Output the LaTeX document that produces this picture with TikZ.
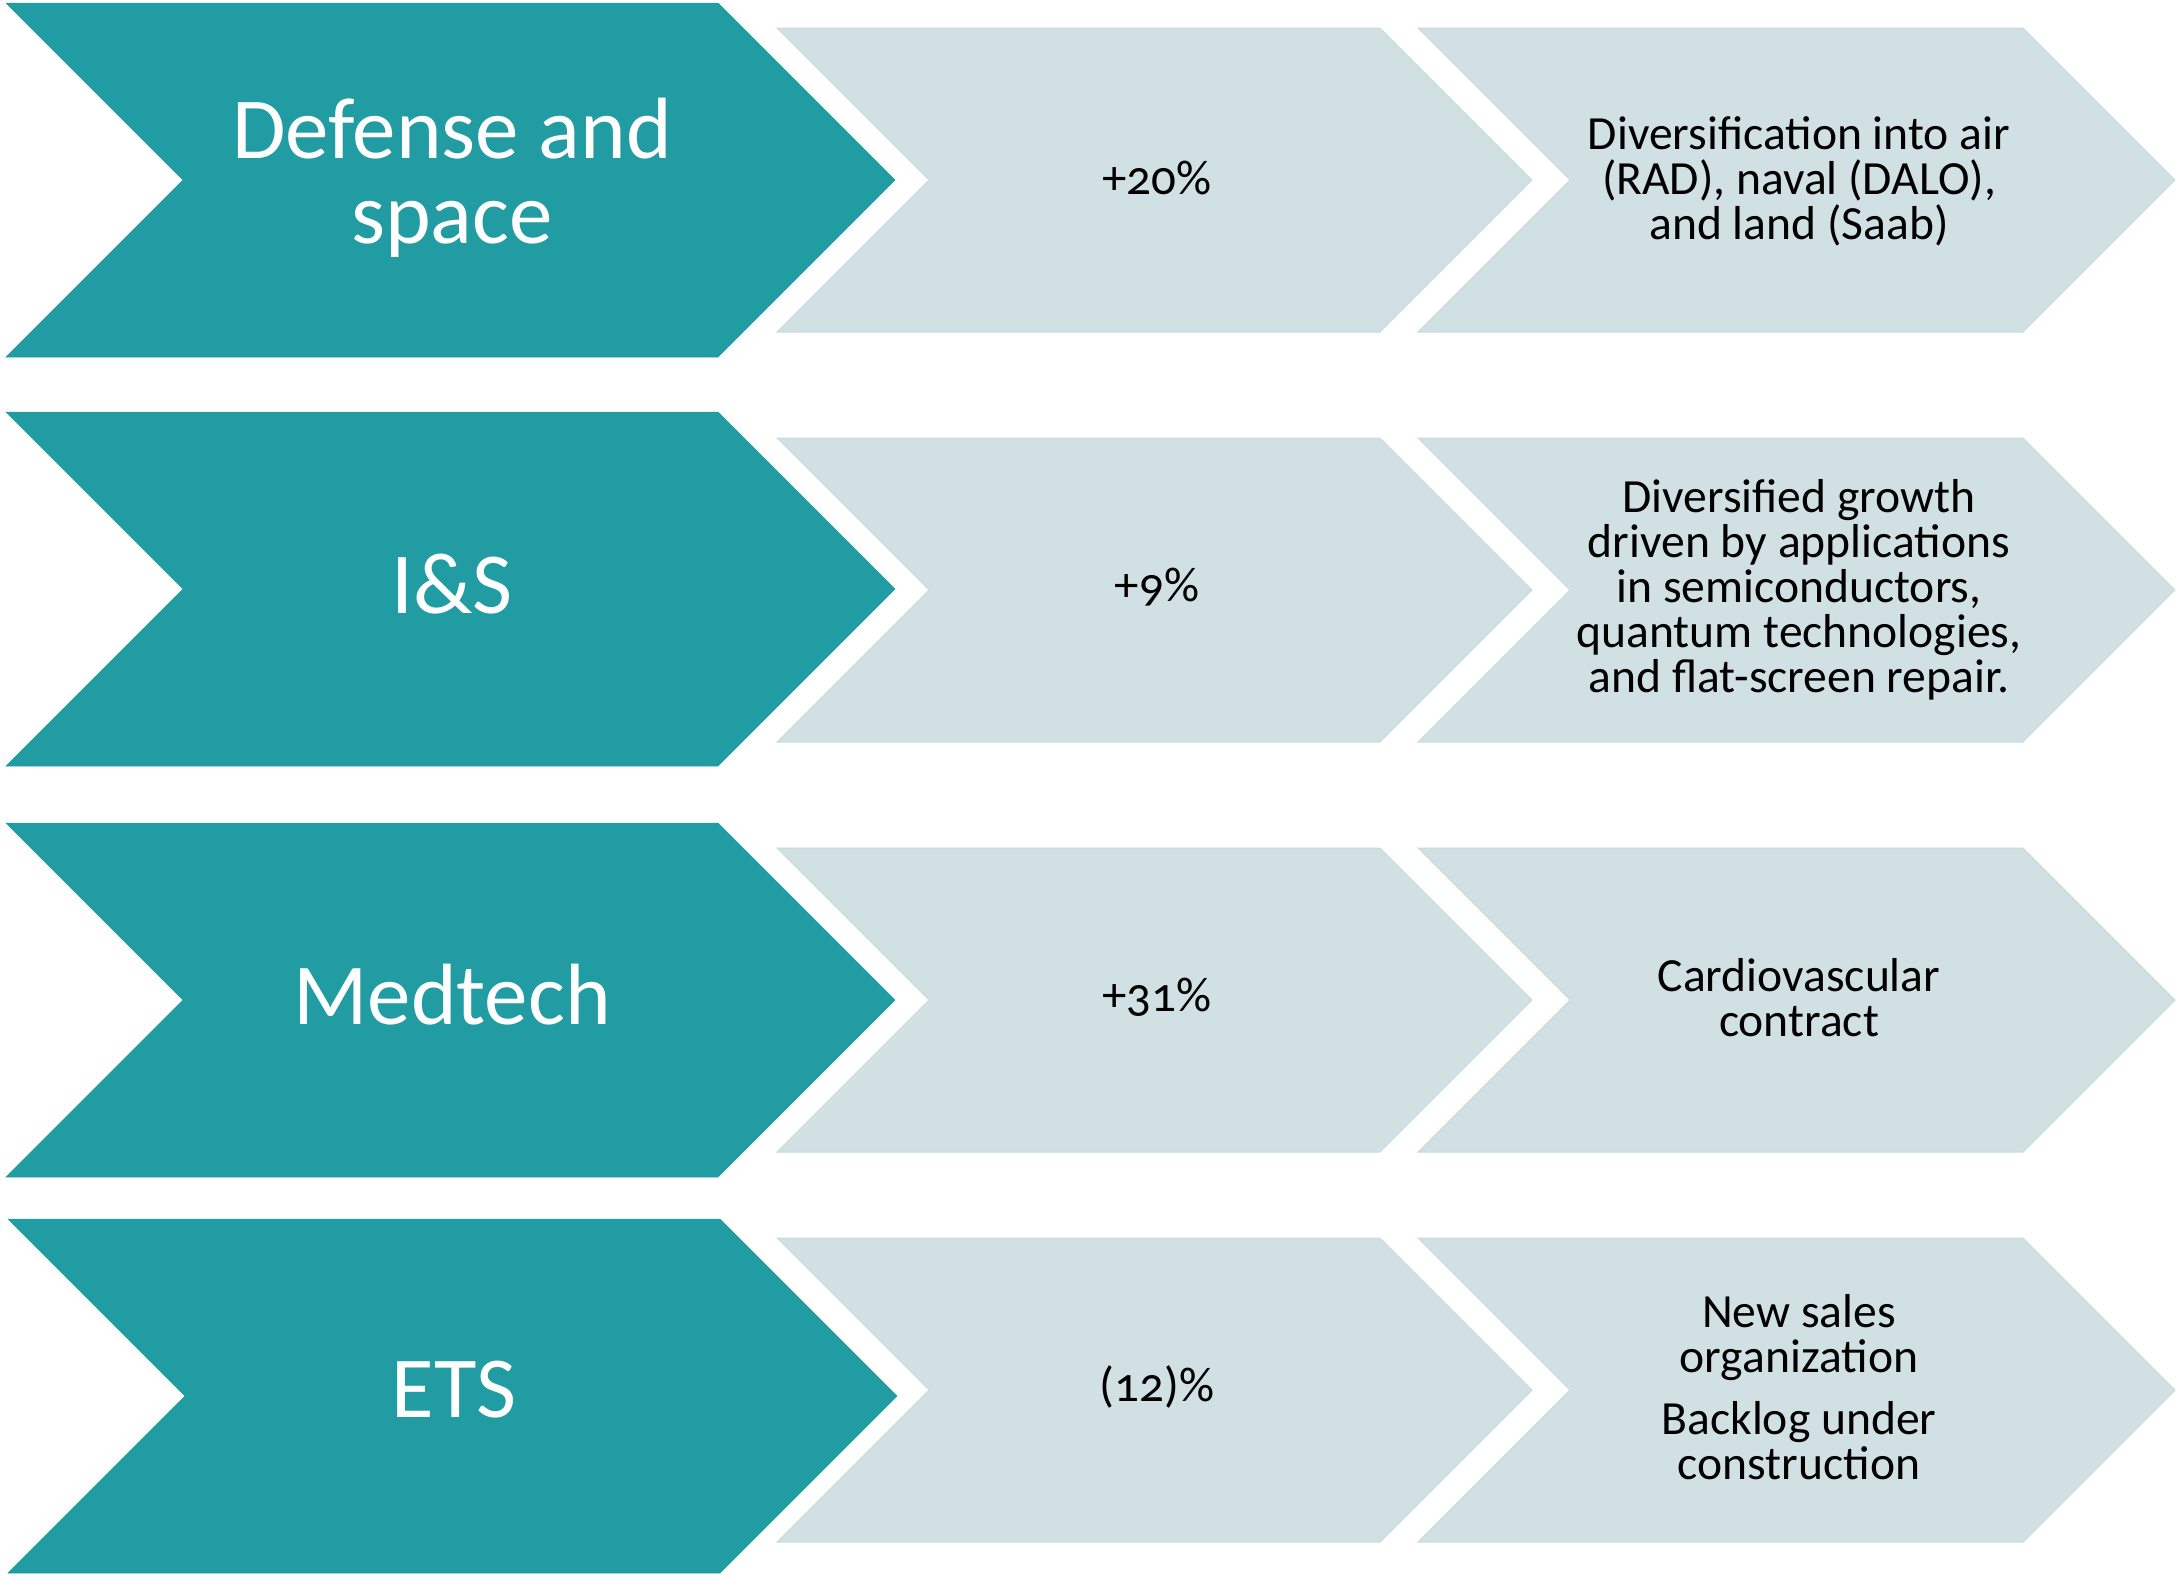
\documentclass[tikz,border=0pt]{standalone}
\usepackage{fontspec}
\setmainfont{Carlito}[Numbers=OldStyle]
\definecolor{segteal}{RGB}{32,156,162}
\definecolor{seglight}{RGB}{208,224,227}
\definecolor{seglightedge}{RGB}{200,219,222}

% chevron: style, left x, top y, width from left edge to start of tip, half height
\newcommand{\drawchevron}[5]{%
  \filldraw[#1] (#2,#3) -- ++(#4,0) -- ++(#5,#5) -- ++(-#5,#5) -- ++(-#4,0) -- ++(#5,-#5) -- cycle;}

\begin{document}
\begin{tikzpicture}[x=1pt,y=-1pt,
  segment/.style={fill=segteal,draw=segteal,line width=0.5pt},
  detail/.style={fill=seglight,draw=seglightedge,line width=1pt},
  segtext/.style={text=white,align=center,inner sep=0pt,font=\fontsize{87}{85}\selectfont},
  growth/.style={text=black,align=center,inner sep=0pt,font=\fontsize{49}{45}\selectfont},
  note/.style={text=black,align=center,inner sep=0pt,font=\fontsize{47.6}{45}\selectfont}]
\useasboundingbox (0,0) rectangle (2178,1577);

% row 1
\drawchevron{segment}{6}{3}{712}{177}
\drawchevron{detail}{777}{28}{603}{152}
\drawchevron{detail}{1418}{28}{605}{152}
% row 2
\drawchevron{segment}{6}{412}{712}{177}
\drawchevron{detail}{777}{438}{603}{152}
\drawchevron{detail}{1418}{438}{605}{152}
% row 3
\drawchevron{segment}{6}{823}{712}{177}
\drawchevron{detail}{777}{848}{603}{152}
\drawchevron{detail}{1418}{848}{605}{152}
% row 4
\drawchevron{segment}{8}{1219}{712}{177}
\drawchevron{detail}{777}{1238}{603}{152}
\drawchevron{detail}{1418}{1238}{605}{152}

% segment names
\node[segtext] (seg1) at (452,178) {Defense and\\space};
\node[segtext] (seg2) at (452,584) {I\&S};
\node[segtext] (seg3) at (452,995) {Medtech};
\node[segtext] (seg4) at (454,1390) {ETS};

% growth figures
\node[growth] (gr1) at (1157,178) {+20\%};
\node[growth] (gr2) at (1157,587) {+9\%};
\node[growth] (gr3) at (1157,997) {+31\%};
\node[growth] (gr4) at (1157,1387) {(12)\%};

% drivers
\node[note] (dr1) at (1799,181) {Diversification into air\\(RAD), naval (DALO),\\and land (Saab)};
\node[note] (dr2) at (1799,590) {Diversified growth\\driven by applications\\in semiconductors,\\quantum technologies,\\and flat-screen repair.};
\node[note] (dr3) at (1799,998) {Cardiovascular\\contract};
\node[note] (dr4) at (1799,1387) {New sales\\organization\\[17pt]Backlog under\\construction};
\end{tikzpicture}
\end{document}
